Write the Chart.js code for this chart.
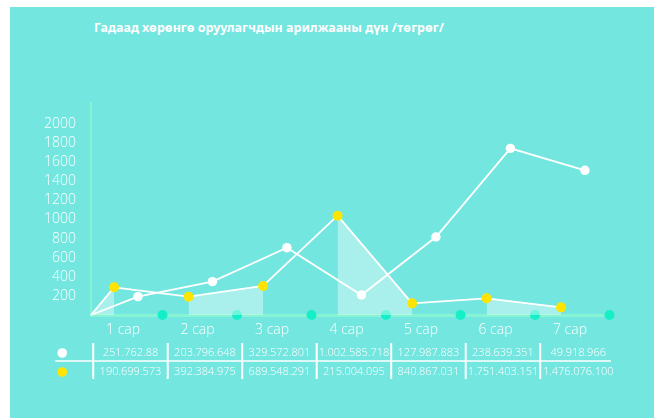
<!DOCTYPE html>
<html lang="mn">
<head>
<meta charset="UTF-8">
<title>Гадаад хөрөнгө оруулагчдын арилжааны дүн</title>
<style>
  html, body { margin: 0; padding: 0; background: #fff; }
  #wrap { position: absolute; left: 10px; top: 7px; width: 644px; height: 411px; background: #74e6e0; }
  #title { position: absolute; left: 0; top: 12px; width: 518px; text-align: center; color: #fff;
           font: bold 12.5px "Noto Sans", sans-serif; }
  canvas { position: absolute; left: 0; top: 0; }
</style>
</head>
<body>
<div id="wrap">
  <div id="title">Гадаад хөрөнгө оруулагчдын арилжааны дүн /төгрөг/</div>
  <canvas id="myChart" width="644" height="411"></canvas>
</div>

<script src="https://cdn.jsdelivr.net/npm/chart.js"></script>
<script>
    // months along the bottom
    const months = ['1 сар', '2 сар', '3 сар', '4 сар', '5 сар', '6 сар', '7 сар'];
    // y axis labels
    const yTicks = [200, 400, 600, 800, 1000, 1200, 1400, 1600, 1800, 2000];
    // plotted values (thousand tögrög)
    const whiteLine = [192, 349, 705, 209, 817, 1745, 1515];
    const yellowLine = [290, 192, 304, 1040, 122, 175, 80];
    // table rows, as printed under the chart
    const whiteRow = ['251.762.88', '203.796.648', '329.572.801', '1.002.585.718', '127.987.883', '238.639.351', '49.918.966'];
    const yellowRow = ['190.699.573', '392.384.975', '689.548.291', '215.004.095', '840.867.031', '1.751.403.151', '1.476.076.100'];

    const xStart = 0.57;
    const lineFont = { family: 'Open Sans', size: 14, weight: 300 };

    // both lines start from the corner of the axes
    const whitePts = [{ x: xStart, y: 0 }].concat(whiteLine.map((v, i) => ({ x: i + 1.2, y: v })));
    const yellowPts = [{ x: xStart, y: 0 }].concat(yellowLine.map((v, i) => ({ x: i + 0.88, y: v })));
    const markPts = months.map((m, i) => ({ x: i + 1.53, y: 0 }));

    // little table under the x axis
    const tablePlugin = {
        id: 'valueTable',
        afterDraw(chart) {
            const ctx = chart.ctx;
            const x = chart.scales.x;
            const b = chart.chartArea.bottom;
            const seps = months.map((m, i) => x.getPixelForValue(i + 0.6));
            const right = x.getPixelForValue(7.55);
            const rowY = [b + 38, b + 57];

            ctx.save();
            ctx.strokeStyle = '#fff';
            ctx.lineWidth = 1.6;
            ctx.beginPath();
            ctx.moveTo(seps[0] - 38, b + 46);
            ctx.lineTo(right, b + 46);
            ctx.stroke();
            ctx.lineWidth = 2;
            seps.forEach(s => {
                ctx.beginPath();
                ctx.moveTo(s, b + 28);
                ctx.lineTo(s, b + 64);
                ctx.stroke();
            });

            ctx.fillStyle = '#fff';
            ctx.beginPath();
            ctx.arc(seps[0] - 31, rowY[0], 4.8, 0, Math.PI * 2);
            ctx.fill();
            ctx.fillStyle = '#ffe400';
            ctx.beginPath();
            ctx.arc(seps[0] - 31, rowY[1], 4.8, 0, Math.PI * 2);
            ctx.fill();

            ctx.fillStyle = '#fff';
            ctx.font = '300 11px "Open Sans"';
            ctx.textAlign = 'center';
            ctx.textBaseline = 'middle';
            [whiteRow, yellowRow].forEach((row, r) => {
                row.forEach((t, i) => {
                    const cx = i < seps.length - 1 ? (seps[i] + seps[i + 1]) / 2 : seps[i] + 38;
                    ctx.fillText(t, cx, rowY[r]);
                });
            });
            ctx.restore();
        }
    };

    new Chart(document.getElementById('myChart'), {
        type: 'line',
        data: {
            datasets: [{
                data: whitePts,
                borderColor: '#fff',
                borderWidth: 1.8,
                pointRadius: c => c.dataIndex === 0 ? 0 : 4.7,
                pointBackgroundColor: '#fff',
                pointBorderWidth: 0,
                fill: false,
                clip: false
            }, {
                data: yellowPts,
                borderColor: '#fff',
                borderWidth: 1.8,
                pointRadius: c => c.dataIndex === 0 ? 0 : 5,
                pointBackgroundColor: '#ffe400',
                pointBorderWidth: 0,
                fill: 'origin',
                backgroundColor: 'rgba(255,255,255,0)',
                segment: {
                    backgroundColor: c => c.p0DataIndex % 2 === 0 ? 'rgba(255,255,255,0.38)' : 'rgba(255,255,255,0)'
                },
                clip: false
            }, {
                data: markPts,
                showLine: false,
                pointRadius: 5,
                pointBackgroundColor: '#14efc8',
                pointBorderWidth: 0,
                clip: false
            }]
        },
        options: {
            responsive: false,
            animation: false,
            layout: { padding: { top: 96, right: 46, left: 0, bottom: 0 } },
            plugins: { legend: { display: false }, tooltip: { enabled: false } },
            scales: {
                x: {
                    type: 'linear',
                    min: xStart,
                    max: 7.51,
                    grid: { display: false },
                    border: { display: true, color: '#86f4d2', width: 3 },
                    afterBuildTicks: s => { s.ticks = months.map((m, i) => ({ value: i + 1 })); },
                    afterFit: s => { s.height = 103; },
                    ticks: {
                        color: '#fff',
                        font: lineFont,
                        padding: -1,
                        maxRotation: 0,
                        autoSkip: false,
                        callback: v => months[v - 1]
                    }
                },
                y: {
                    min: 0,
                    max: 2220,
                    grid: { display: false },
                    border: { display: true, color: '#86f4d2', width: 2 },
                    afterBuildTicks: s => { s.ticks = yTicks.map(v => ({ value: v })); },
                    afterFit: s => { s.width = 81; },
                    ticks: {
                        color: '#fff',
                        font: lineFont,
                        padding: 7,
                        callback: v => String(v)
                    }
                }
            }
        },
        plugins: [tablePlugin]
    });
</script>
</body>
</html>
